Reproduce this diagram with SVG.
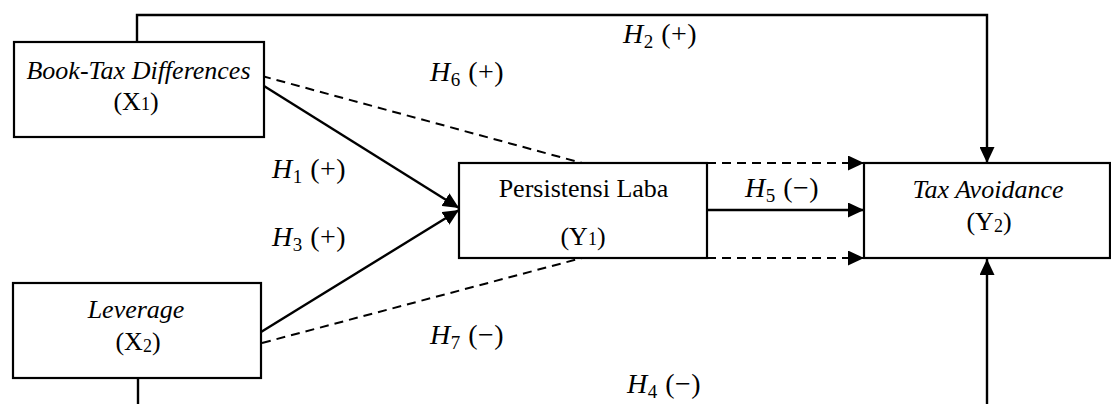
<svg xmlns="http://www.w3.org/2000/svg" width="1111" height="404" viewBox="0 0 1111 404">
<defs>
<marker id="ah" markerUnits="userSpaceOnUse" markerWidth="16" markerHeight="15" refX="16" refY="7.5" orient="auto">
<path d="M0,0 L16,7.5 L0,15 z" fill="#000"/>
</marker>
<style>
.box{fill:#fff;stroke:#000;stroke-width:2.2}
.ln{fill:none;stroke:#000;stroke-width:2.4}
.dash{fill:none;stroke:#000;stroke-width:2;stroke-dasharray:9,6}
.t{font-family:"Liberation Serif","Times New Roman",serif;font-size:26px;fill:#000;text-anchor:middle}
.it{font-style:italic}
.sub{font-size:18px}
.h{font-family:"Liberation Serif","Times New Roman",serif;font-size:28px;fill:#000;letter-spacing:0.5px}
.hs{font-size:19px}
</style>
</defs>
<rect width="1111" height="404" fill="#fff"/>
<g id="connectors">
<polyline class="ln" points="137,42 137,15 987,15 987,163" marker-end="url(#ah)"/>
<line class="ln" x1="987" y1="404" x2="987" y2="259" marker-end="url(#ah)"/>
<line class="ln" x1="138" y1="378" x2="138" y2="404"/>
<line class="ln" x1="264" y1="86" x2="459" y2="208" marker-end="url(#ah)"/>
<line class="ln" x1="261" y1="332" x2="459" y2="210" marker-end="url(#ah)"/>
<line class="dash" x1="262" y1="76" x2="582" y2="163"/>
<line class="dash" x1="262" y1="343" x2="582" y2="258"/>
<line class="dash" x1="707" y1="163" x2="864" y2="163" marker-end="url(#ah)"/>
<line class="ln" x1="707" y1="210" x2="864" y2="210" marker-end="url(#ah)"/>
<line class="dash" x1="707" y1="258" x2="864" y2="258" marker-end="url(#ah)"/>
</g>
<g id="node-btd">
<rect class="box" x="14" y="42" width="250" height="95"/>
<text class="t it" x="138.5" y="79">Book-Tax Differences</text>
<text class="t" x="136" y="110">(X<tspan class="sub">1</tspan>)</text>
</g>
<g id="node-lev">
<rect class="box" x="13" y="283" width="248" height="95"/>
<text class="t it" x="136" y="318">Leverage</text>
<text class="t" x="138" y="350">(X<tspan class="sub" dy="2">2</tspan><tspan dy="-2">)</tspan></text>
</g>
<g id="node-pl">
<rect class="box" x="459" y="163" width="248" height="95"/>
<text class="t" x="583.5" y="197">Persistensi Laba</text>
<text class="t" x="583" y="245">(Y<tspan class="sub">1</tspan>)</text>
</g>
<g id="node-ta">
<rect class="box" x="864" y="163" width="246" height="95"/>
<text class="t it" x="988" y="198">Tax Avoidance</text>
<text class="t" x="989" y="230">(Y<tspan class="sub" dy="2">2</tspan><tspan dy="-2">)</tspan></text>
</g>
<g id="labels">
<text class="h" x="623" y="43"><tspan font-style="italic">H</tspan><tspan class="hs" dy="5">2</tspan><tspan dy="-5"> (+)</tspan></text>
<text class="h" x="430" y="81"><tspan font-style="italic">H</tspan><tspan class="hs" dy="5">6</tspan><tspan dy="-5"> (+)</tspan></text>
<text class="h" x="272" y="178"><tspan font-style="italic">H</tspan><tspan class="hs" dy="5">1</tspan><tspan dy="-5"> (+)</tspan></text>
<text class="h" x="272" y="246"><tspan font-style="italic">H</tspan><tspan class="hs" dy="5">3</tspan><tspan dy="-5"> (+)</tspan></text>
<text class="h" x="745" y="197"><tspan font-style="italic">H</tspan><tspan class="hs" dy="5">5</tspan><tspan dy="-5"> (−)</tspan></text>
<text class="h" x="430" y="344"><tspan font-style="italic">H</tspan><tspan class="hs" dy="5">7</tspan><tspan dy="-5"> (−)</tspan></text>
<text class="h" x="627" y="393"><tspan font-style="italic">H</tspan><tspan class="hs" dy="5">4</tspan><tspan dy="-5"> (−)</tspan></text>
</g>
</svg>
